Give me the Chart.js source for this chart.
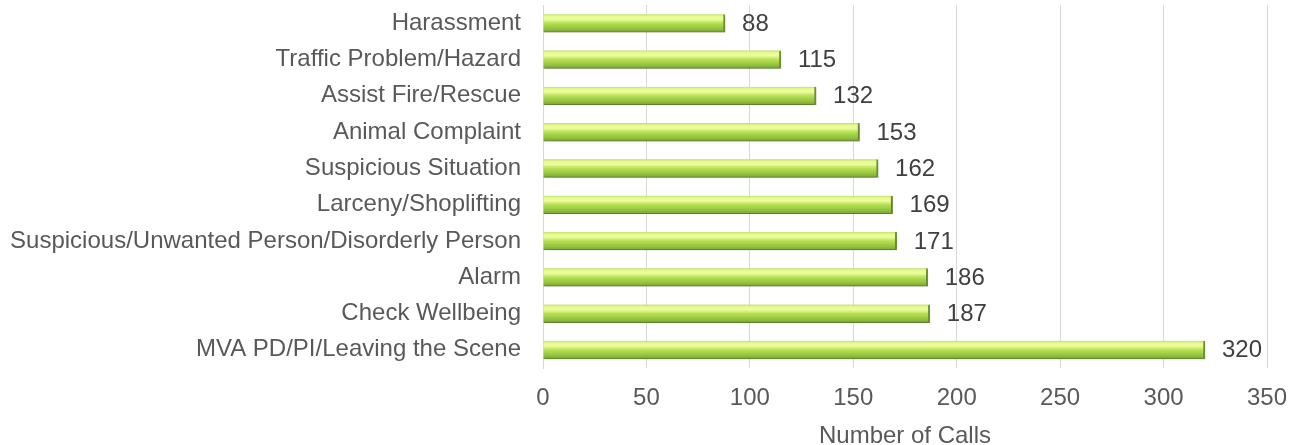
<!DOCTYPE html>
<html>
<head>
<meta charset="utf-8">
<script src="https://cdn.jsdelivr.net/npm/chart.js@4.4.0/dist/chart.umd.min.js"></script>
<style>
    html, body { margin: 0; padding: 0; background: #ffffff; }
    #wrap { width: 1298px; height: 445px; }
</style>
</head>
<body>
<div id="wrap"><canvas id="callsChart" width="1298" height="445"></canvas></div>
<script>
// 数据
const categories = [
    'Harassment',
    'Traffic Problem/Hazard',
    'Assist Fire/Rescue',
    'Animal Complaint',
    'Suspicious Situation',
    'Larceny/Shoplifting',
    'Suspicious/Unwanted Person/Disorderly Person',
    'Alarm',
    'Check Wellbeing',
    'MVA PD/PI/Leaving the Scene'
];
const callCounts = [88, 115, 132, 153, 162, 169, 171, 186, 187, 320];
const xTicks = [0, 50, 100, 150, 200, 250, 300, 350];

const BAR_H = 18;
const FONT = "'Liberation Sans', Arial, sans-serif";
const FONT_SIZE = 24;

// 渐变填充（按每根柱子的位置）
function barGradient(context) {
    const chart = context.chart;
    const yScale = chart.scales.y;
    if (!yScale || context.dataIndex === undefined) return '#a9d64a';
    const cy = yScale.getPixelForValue(context.dataIndex);
    if (!isFinite(cy)) return '#a9d64a';
    const top = cy - BAR_H / 2;
    const g = chart.ctx.createLinearGradient(0, top, 0, top + BAR_H);
    g.addColorStop(0, '#bfe26a');
    g.addColorStop(0.12, '#e6f890');
    g.addColorStop(0.28, '#effd9e');
    g.addColorStop(0.5, '#b6e154');
    g.addColorStop(0.8, '#94c33f');
    g.addColorStop(1, '#7aa336');
    return g;
}

// 柱子阴影
const shadowPlugin = {
    id: 'barShadow',
    beforeDatasetsDraw(chart) {
        const ctx = chart.ctx;
        ctx.save();
        ctx.shadowColor = 'rgba(0,0,0,0.22)';
        ctx.shadowBlur = 3;
        ctx.shadowOffsetX = 1;
        ctx.shadowOffsetY = 2;
    },
    afterDatasetsDraw(chart) {
        chart.ctx.restore();
    }
};

// 数值标签
const valueLabels = {
    id: 'valueLabels',
    afterDraw(chart) {
        const ctx = chart.ctx;
        const meta = chart.getDatasetMeta(0);
        ctx.save();
        ctx.font = FONT_SIZE + 'px ' + FONT;
        ctx.fillStyle = '#404040';
        ctx.textAlign = 'left';
        ctx.textBaseline = 'middle';
        meta.data.forEach((bar, i) => {
            ctx.fillText(String(callCounts[i]), bar.x + 17, bar.y + 1);
        });
        ctx.restore();
    }
};

new Chart(document.getElementById('callsChart').getContext('2d'), {
    type: 'bar',
    data: {
        labels: categories,
        datasets: [{
            data: callCounts,
            backgroundColor: barGradient,
            borderColor: '#6e9a33',
            borderWidth: { top: 0, right: 2, bottom: 1, left: 0 },
            borderSkipped: false,
            barThickness: BAR_H
        }]
    },
    options: {
        indexAxis: 'y',
        responsive: false,
        animation: false,
        layout: { padding: { top: 5, right: 31, left: 0, bottom: 0 } },
        plugins: {
            legend: { display: false },
            tooltip: { enabled: false }
        },
        scales: {
            x: {
                min: 0,
                max: 350,
                afterBuildTicks(scale) {
                    scale.ticks = xTicks.map(v => ({ value: v }));
                },
                afterFit(scale) {
                    scale.height = 77;
                    scale.paddingLeft = 0;
                    scale.paddingRight = 0;
                },
                grid: { color: '#d9d9d9', lineWidth: 1, drawTicks: false },
                border: { display: false },
                ticks: {
                    padding: 16,
                    color: '#595959',
                    font: { family: FONT, size: FONT_SIZE }
                },
                title: {
                    display: true,
                    text: 'Number of Calls',
                    color: '#595959',
                    font: { family: FONT, size: FONT_SIZE },
                    padding: { top: 0, bottom: -6 }
                }
            },
            y: {
                afterFit(scale) {
                    scale.width = 543;
                    scale.paddingTop = 0;
                    scale.paddingBottom = 0;
                },
                grid: { display: false, drawTicks: false },
                border: { display: true, color: '#d9d9d9', width: 1 },
                ticks: {
                    padding: 22,
                    color: '#595959',
                    font: { family: FONT, size: FONT_SIZE }
                }
            }
        }
    },
    plugins: [shadowPlugin, valueLabels]
});
</script>
</body>
</html>
